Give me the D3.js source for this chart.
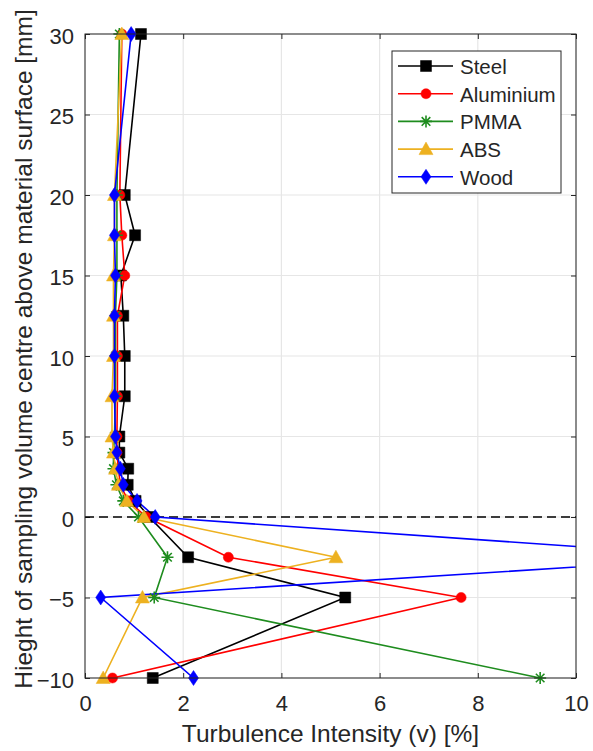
<!DOCTYPE html>
<html><head><meta charset="utf-8">
<script src="https://cdn.jsdelivr.net/npm/d3@7"></script>
<style>body{margin:0;background:#fff;} text{font-family:"Liberation Sans",Arial,sans-serif;}</style>
</head><body>
<svg id="c" width="593" height="751"></svg>
<script>
const heights = [30, 20, 17.5, 15, 12.5, 10, 7.5, 5, 4, 3, 2, 1, 0, -2.5, -5, -10];
const steel     = [1.14, 0.81, 1.02, 0.73, 0.78, 0.81, 0.81, 0.70, 0.70, 0.88, 0.87, 1.03, 1.31, 2.10, 5.30, 1.38];
const aluminium = [0.75, 0.71, 0.75, 0.81, 0.66, 0.66, 0.66, 0.65, 0.65, 0.68, 0.72, 0.88, 1.25, 2.92, 7.66, 0.56];
const pmma      = [0.70, 0.65, 0.65, 0.65, 0.62, 0.62, 0.62, 0.60, 0.58, 0.58, 0.64, 0.78, 1.09, 1.68, 1.41, 9.27];
const abs       = [0.75, 0.60, 0.60, 0.58, 0.58, 0.58, 0.55, 0.55, 0.58, 0.62, 0.68, 0.85, 1.20, 5.11, 1.17, 0.37];
const wood      = [0.94, 0.60, 0.60, 0.62, 0.60, 0.60, 0.60, 0.62, 0.65, 0.72, 0.78, 1.06, 1.43, 13.1, 0.32, 2.21];
const seriesNames = ["Steel", "Aluminium", "PMMA", "ABS", "Wood"];
const seriesColors = ["#000000", "#ff0000", "#1e8c1e", "#edb120", "#0000ff"];
const seriesMarkers = ["square", "circle", "asterisk", "triangle", "diamond"];
const xTicks = [0, 2, 4, 6, 8, 10];
const yTicks = [-10, -5, 0, 5, 10, 15, 20, 25, 30];
const xTitle = "Turbulence Intensity (v) [%]";
const yTitle = "Hieght of sampling volume centre above material surface [mm]";

const allSeries = [steel, aluminium, pmma, abs, wood];
const svg = d3.select("#c");
const L = 85, R = 576, T = 34, B = 678;
const x = d3.scaleLinear().domain([0, 10]).range([L, R]);
const y = d3.scaleLinear().domain([-10, 30]).range([B, T]);
const axisCol = "#262626";

// grid
const g = svg.append("g");
g.selectAll(".gx").data(xTicks).enter().append("line")
  .attr("x1", d => x(d)).attr("x2", d => x(d)).attr("y1", T).attr("y2", B)
  .attr("stroke", "#e6e6e6").attr("stroke-width", 1.2);
g.selectAll(".gy").data(yTicks).enter().append("line")
  .attr("x1", L).attr("x2", R).attr("y1", d => y(d)).attr("y2", d => y(d))
  .attr("stroke", "#e6e6e6").attr("stroke-width", 1.2);

// axes (ticks inside)
const fs = 22;
const ax = svg.append("g").attr("transform", `translate(0,${B})`)
  .call(d3.axisBottom(x).tickValues(xTicks).tickSize(-5).tickFormat(d3.format("d")));
const axT = svg.append("g").attr("transform", `translate(0,${T})`)
  .call(d3.axisTop(x).tickValues(xTicks).tickSize(-5).tickFormat(""));
const ay = svg.append("g").attr("transform", `translate(${L},0)`)
  .call(d3.axisLeft(y).tickValues(yTicks).tickSize(-5).tickFormat(d3.format("d")));
const ayR = svg.append("g").attr("transform", `translate(${R},0)`)
  .call(d3.axisRight(y).tickValues(yTicks).tickSize(-5).tickFormat(""));
[ax, axT, ay, ayR].forEach(a => {
  a.select(".domain").remove();
  a.selectAll("line").attr("stroke", axisCol).attr("stroke-width", 1);
  a.selectAll("text").attr("fill", axisCol).style("font-size", fs + "px").style("font-family", '"Liberation Sans",Arial,sans-serif');
});
ax.selectAll("text").attr("y", 33).attr("dy", null);
ay.selectAll("text").attr("x", -11).attr("dy", null).attr("y", 9);

// zero dashed line
svg.append("line").attr("x1", L).attr("x2", R).attr("y1", y(0)).attr("y2", y(0))
  .attr("stroke", "#000").attr("stroke-width", 1.6).attr("stroke-dasharray", "9,5");

// clip
svg.append("defs").append("clipPath").attr("id", "clip")
  .append("rect").attr("x", L).attr("y", T).attr("width", R - L).attr("height", B - T);

function markerPath(type) {
  switch (type) {
    case "square": return "M-5.5,-5.5H5.5V5.5H-5.5Z";
    case "circle": return d3.symbol(d3.symbolCircle, 80)();
    case "triangle": return "M0,-7L7,5.5H-7Z";
    case "diamond": return "M0,-7.5L5,0L0,7.5L-5,0Z";
    case "asterisk": return "M-6,0H6M0,-6V6M-4.3,-4.3L4.3,4.3M-4.3,4.3L4.3,-4.3";
  }
}
function drawMarker(sel, type, color) {
  sel.append("path").attr("d", markerPath(type))
    .attr("fill", type === "asterisk" ? "none" : color)
    .attr("stroke", color).attr("stroke-width", type === "asterisk" ? 1.6 : 0.5);
}

const plot = svg.append("g").attr("clip-path", "url(#clip)");
const line = d3.line().x(d => x(d[0])).y(d => y(d[1]));
allSeries.forEach((vals, i) => {
  const pts = vals.map((v, j) => [v, heights[j]]);
  plot.append("path").datum(pts).attr("d", line)
    .attr("fill", "none").attr("stroke", seriesColors[i]).attr("stroke-width", 1.6);
});
allSeries.forEach((vals, i) => {
  vals.forEach((v, j) => {
    if (v > 10 || v < 0) return;
    const m = svg.append("g").attr("transform", `translate(${x(v)},${y(heights[j])})`);
    drawMarker(m, seriesMarkers[i], seriesColors[i]);
  });
});

// box
svg.append("rect").attr("x", L).attr("y", T).attr("width", R - L).attr("height", B - T)
  .attr("fill", "none").attr("stroke", axisCol).attr("stroke-width", 1);

// titles
svg.append("text").attr("x", (L + R) / 2).attr("y", 742).attr("text-anchor", "middle")
  .attr("fill", axisCol).style("font-size", "24.5px").text(xTitle);
svg.append("text").attr("transform", `translate(32,${349}) rotate(-90)`).attr("text-anchor", "middle")
  .attr("fill", axisCol).style("font-size", "24.5px").text(yTitle);

// legend
const lg = svg.append("g");
lg.append("rect").attr("x", 392).attr("y", 51).attr("width", 169).attr("height", 142)
  .attr("fill", "#fff").attr("stroke", axisCol).attr("stroke-width", 1);
seriesNames.forEach((n, i) => {
  const yy = 66 + i * 27.7;
  lg.append("line").attr("x1", 398).attr("x2", 453).attr("y1", yy).attr("y2", yy)
    .attr("stroke", seriesColors[i]).attr("stroke-width", 1.6);
  const m = lg.append("g").attr("transform", `translate(426,${yy})`);
  drawMarker(m, seriesMarkers[i], seriesColors[i]);
  lg.append("text").attr("x", 460).attr("y", yy + 8).attr("fill", axisCol)
    .style("font-size", "20.5px").text(n);
});
</script>
</body></html>
